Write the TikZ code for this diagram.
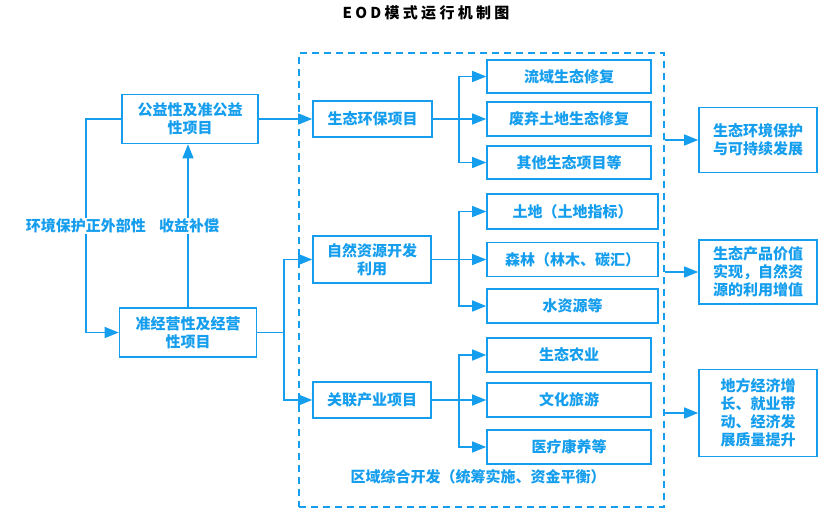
\documentclass[tikz,border=0pt]{standalone}
\usepackage{fontspec}
\setmainfont{Noto Sans CJK SC}
\newfontfamily\titlefont[LetterSpace=22]{Noto Sans CJK SC}
\usetikzlibrary{arrows.meta}
\definecolor{eodblue}{RGB}{22,158,238}
\tikzset{%
	box/.style={
		draw=eodblue, line width=1.6pt, text=eodblue,
		font=\bfseries\fontsize{15}{18}\selectfont,
		align=center, inner sep=0pt
	}
}
\tikzset{link/.style={draw=eodblue, line width=1.5pt}}
\tikzset{arr/.style={link, -{Triangle[length=14pt,width=11pt]}}}
\tikzset{tag/.style={text=eodblue, fill=white, inner sep=1pt, font=\bfseries\fontsize{15}{18}\selectfont}}

\begin{document}
\begin{tikzpicture}[x=1pt, y=-1pt]
		\useasboundingbox (0,0) rectangle (839,531);

		\node[font=\titlefont\bfseries\fontsize{15}{17}\selectfont] (title) at (426,13) {EOD模式运行机制图};

		% dashed zone
		\node[draw=eodblue, line width=1.6pt, dash pattern=on 7pt off 5pt, minimum width=365, minimum height=454, inner sep=0pt] (zone) at (481.5,280) {};
		\node[tag, fill=none] (zonelabel) at (478,477) {区域综合开发（统筹实施、资金平衡）};

		% left column
		\node[box, minimum width=136, minimum height=49] (pub) at (190,119) {公益性及准公益\\性项目};
		\node[box, minimum width=137, minimum height=49] (op) at (188,332.5) {准经营性及经营\\性项目};

		% middle column
		\node[box, minimum width=119, minimum height=36] (eco) at (372.5,119) {生态环保项目};
		\node[box, minimum width=118, minimum height=47] (nat) at (372,259.5) {自然资源开发\\利用};
		\node[box, minimum width=118, minimum height=36] (ind) at (372,400) {关联产业项目};

		\node[box, minimum width=164, minimum height=33] (eco1) at (569,76.5) {流域生态修复};
		\node[box, minimum width=164, minimum height=34] (eco2) at (569,119) {废弃土地生态修复};
		\node[box, minimum width=164, minimum height=33] (eco3) at (569,162.5) {其他生态项目等};

		\node[box, minimum width=171, minimum height=35] (nat1) at (572.5,211.5) {土地（土地指标）};
		\node[box, minimum width=171, minimum height=34] (nat2) at (572.5,259.5) {森林（林木、碳汇）};
		\node[box, minimum width=171, minimum height=34] (nat3) at (572.5,306) {水资源等};

		\node[box, minimum width=164, minimum height=34] (ind1) at (569,355) {生态农业};
		\node[box, minimum width=164, minimum height=34] (ind2) at (569,400) {文化旅游};
		\node[box, minimum width=164, minimum height=34] (ind3) at (569,447) {医疗康养等};

		% right column
		\node[box, minimum width=118, minimum height=65] (res1) at (758,140) {生态环境保护\\与可持续发展};
		\node[box, minimum width=118, minimum height=64] (res2) at (758,272) {生态产品价值\\实现，自然资\\源的利用增值};
		\node[box, minimum width=118, minimum height=87] (res3) at (758,413) {地方经济增\\长、就业带\\动、经济发\\展质量提升};

		\coordinate (loop) at (86,119);
		\coordinate (split) at (284,332.5);
		\coordinate (ecofork) at (459,119);
		\coordinate (natfork) at (459,259.5);
		\coordinate (indfork) at (459,400);

		% left loop
		\draw[arr] (pub.west) -- (loop) |- (op.west);
		\draw[arr] (op.north) -- (op.north |- pub.south);
		\node[tag] (extlabel) at (86,226) {环境保护正外部性};
		\node[tag] (paylabel) at (189,226) {收益补偿};

		\draw[arr] (pub.east) -- (eco.west);
		\draw[link] (op.east) -- (split);
		\draw[arr] (split) |- (nat.west);
		\draw[arr] (split) |- (ind.west);

		\draw[link] (eco.east) -- (ecofork);
		\draw[arr] (ecofork) |- (eco1.west);
		\draw[arr] (ecofork) -- (eco2.west);
		\draw[arr] (ecofork) |- (eco3.west);

		\draw[link] (nat.east) -- (natfork);
		\draw[arr] (natfork) |- (nat1.west);
		\draw[arr] (natfork) -- (nat2.west);
		\draw[arr] (natfork) |- (nat3.west);

		\draw[link] (ind.east) -- (indfork);
		\draw[arr] (indfork) |- (ind1.west);
		\draw[arr] (indfork) -- (ind2.west);
		\draw[arr] (indfork) |- (ind3.west);

		\draw[arr] (zone.east |- res1.west) -- (res1.west);
		\draw[arr] (zone.east |- res2.west) -- (res2.west);
		\draw[arr] (zone.east |- res3.west) -- (res3.west);
	\end{tikzpicture}
\end{document}
